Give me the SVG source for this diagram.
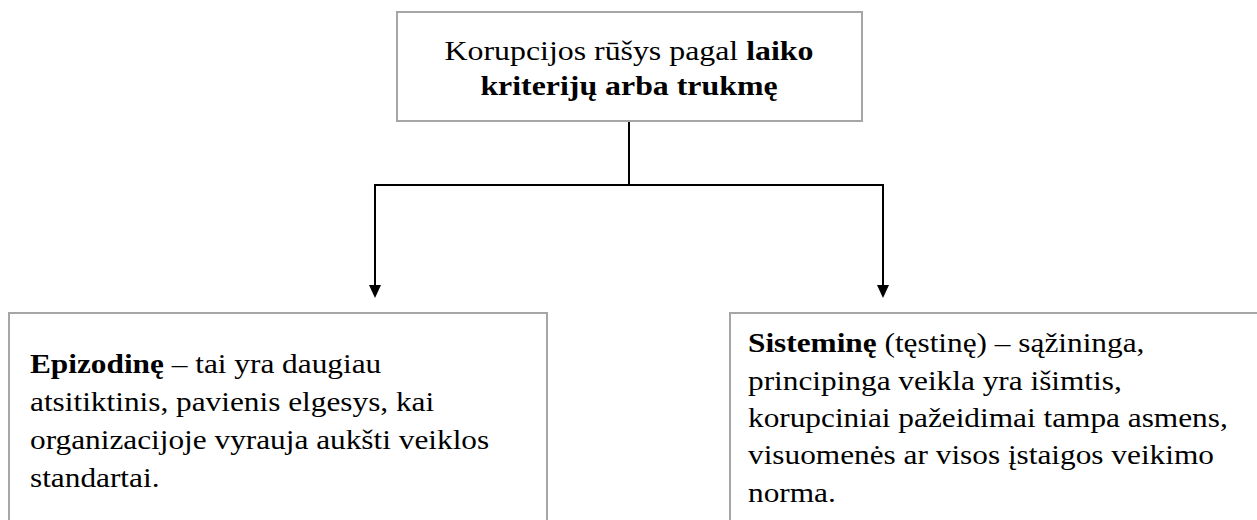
<svg xmlns="http://www.w3.org/2000/svg" width="1257" height="520" viewBox="0 0 1257 520">
  <style>
    .box { fill: #ffffff; stroke: #a6a6a6; stroke-width: 2; }
    .link { fill: none; stroke: #000000; stroke-width: 2; }
  </style>
  <rect width="1257" height="520" fill="#ffffff"/>

  <!-- connectors -->
  <g id="connectors">
    <path class="link" d="M629,121 L629,185"/>
    <path class="link" d="M375,185 L883,185"/>
    <path class="link" d="M375,184 L375,285"/>
    <path class="link" d="M883,184 L883,285"/>
    <path d="M369,285 L381,285 L375,298 Z" fill="#000000"/>
    <path d="M877,285 L889,285 L883,298 Z" fill="#000000"/>
  </g>

  <g font-family="Liberation Serif, Times New Roman, serif" font-size="27" fill="#000000">
    <!-- top node -->
    <g id="node-root">
      <rect class="box" x="397" y="12" width="465" height="109"/>
      <!-- wide-set type: stretched horizontally about the box centre -->
      <g transform="matrix(1.18 0 0 1 -113.22 0)">
        <text x="629" y="60" text-anchor="middle">Korupcijos rūšys pagal <tspan font-weight="bold">laiko</tspan></text>
        <text x="629" y="95" text-anchor="middle" font-weight="bold">kriterijų arba trukmę</text>
      </g>
    </g>

    <!-- left node -->
    <g id="node-episodic">
      <rect class="box" x="9" y="313" width="538" height="230"/>
      <g transform="matrix(1.16 0 0 1 -4.8 0)">
        <text x="30" y="373"><tspan font-weight="bold">Epizodinę</tspan> – tai yra daugiau</text>
        <text x="30" y="411">atsitiktinis, pavienis elgesys, kai</text>
        <text x="30" y="449">organizacijoje vyrauja aukšti veiklos</text>
        <text x="30" y="487">standartai.</text>
      </g>
    </g>

    <!-- right node -->
    <g id="node-systemic">
      <rect class="box" x="730" y="313" width="560" height="230"/>
      <g transform="matrix(1.16 0 0 1 -119.68 0)">
        <text x="748" y="352"><tspan font-weight="bold">Sisteminę</tspan> (tęstinę) – sąžininga,</text>
        <text x="748" y="390">principinga veikla yra išimtis,</text>
        <text x="748" y="427">korupciniai pažeidimai tampa asmens,</text>
        <text x="748" y="464">visuomenės ar visos įstaigos veikimo</text>
        <text x="748" y="502">norma.</text>
      </g>
    </g>
  </g>
</svg>
